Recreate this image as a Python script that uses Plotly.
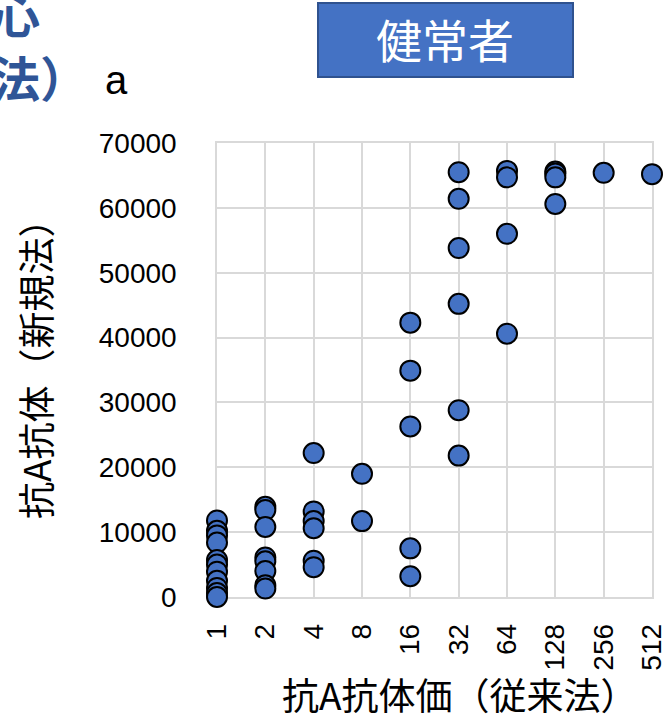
import math
import plotly.graph_objects as go

# Conventional-method anti-A titer (x) vs. new-method anti-A antibody value (y)
titer_ticks = [1, 2, 4, 8, 16, 32, 64, 128, 256, 512]
tick_labels = ["1", "2", "4", "8", "16", "32", "64", "128", "256", "512"]

titer_1 = [11800, 10200, 9500, 8400, 5700, 5000, 3900, 2500, 1400, 600, 0]
titer_2 = [13900, 13400, 10800, 6100, 5500, 4000, 1800, 1300]
titer_4 = [22200, 13200, 11700, 10600, 5600, 4600]
titer_8 = [19000, 11700]
titer_16 = [42300, 34900, 26300, 7500, 3200]
titer_32 = [65500, 61400, 53800, 45200, 28800, 21800]
titer_64 = [65700, 64700, 56000, 40600]
titer_128 = [65600, 65300, 64700, 60600]
titer_256 = [65400]
titer_512 = [65200]

groups = [(1, titer_1), (2, titer_2), (4, titer_4), (8, titer_8), (16, titer_16),
          (32, titer_32), (64, titer_64), (128, titer_128), (256, titer_256),
          (512, titer_512)]
xs, ys = [], []
for t, vals in groups:
    xs += [t] * len(vals)
    ys += vals

W, H = 667, 721
L, R, T, B = 217, 15, 143, 124
grid = "#d9d9d9"
num_font = dict(family="Liberation Sans, Arial, sans-serif", size=28, color="#000000")
cjk = "Noto Sans CJK JP, sans-serif"

fig = go.Figure(go.Scatter(
    x=xs, y=ys, mode="markers", cliponaxis=False,
    marker=dict(size=20, color="#4472C4", line=dict(color="#000000", width=2)),
    showlegend=False,
))

x_hi = math.log10(titer_ticks[-1]) + 1e-5

fig.update_layout(
    width=W, height=H,
    margin=dict(l=L, r=R, t=T, b=B, pad=0, autoexpand=False),
    paper_bgcolor="white", plot_bgcolor="white",
    xaxis=dict(
        type="log", range=[0, x_hi], tickvals=titer_ticks, ticktext=tick_labels,
        tickangle=-90, tickfont=num_font, ticks="", ticklabelstandoff=14,
        ticklabeloverflow="allow",
        showgrid=True, gridcolor=grid, gridwidth=1.5, automargin=False,
        showline=True, linecolor=grid, linewidth=1.5, mirror=True,
        zeroline=False, layer="below traces",
    ),
    yaxis=dict(
        range=[0, 70000], dtick=10000, tickfont=num_font, ticks="",
        tickformat="d", automargin=False, ticklabeloverflow="allow",
        ticklabelstandoff=33, showgrid=True, gridcolor=grid, gridwidth=1.5,
        showline=True, linecolor=grid, linewidth=1.5, mirror=True,
        zeroline=False, layer="below traces",
    ),
    shapes=[dict(
        type="rect", xref="paper", yref="paper",
        x0=(318 - L) / (W - L - R), x1=(573 - L) / (W - L - R),
        y0=(H - B - 77) / (H - T - B), y1=(H - B - 3) / (H - T - B),
        fillcolor="#4472C4", line=dict(color="#2F528F", width=2),
    )],
)

def px(x):
    return (x - L) / (W - L - R)

def py(y):
    return (H - B - y) / (H - T - B)

annotations = [
    dict(text="健常者", x=px(445), y=py(38), font=dict(family=cjk, size=46, color="white")),
    dict(text="抗A抗体価（従来法）", x=px(460), y=py(694),
         font=dict(family=cjk, size=37, color="#000000")),
    dict(text="抗A抗体（新規法）", x=px(35), y=py(360), textangle=-90,
         font=dict(family=cjk, size=37, color="#000000")),
    dict(text="a", x=px(116), y=py(80),
         font=dict(family="Liberation Sans, Arial, sans-serif", size=40, color="#000000")),
    dict(text="<b>心</b>", x=px(16), y=py(12),
         font=dict(family=cjk, size=48, color="#2F5597")),
    dict(text="<b>法）</b>", x=px(40), y=py(76),
         font=dict(family=cjk, size=48, color="#2F5597")),
]
for a in annotations:
    a.update(xref="paper", yref="paper", showarrow=False, xanchor="center", yanchor="middle")
fig.update_layout(annotations=annotations)

fig.write_html("out.html")
